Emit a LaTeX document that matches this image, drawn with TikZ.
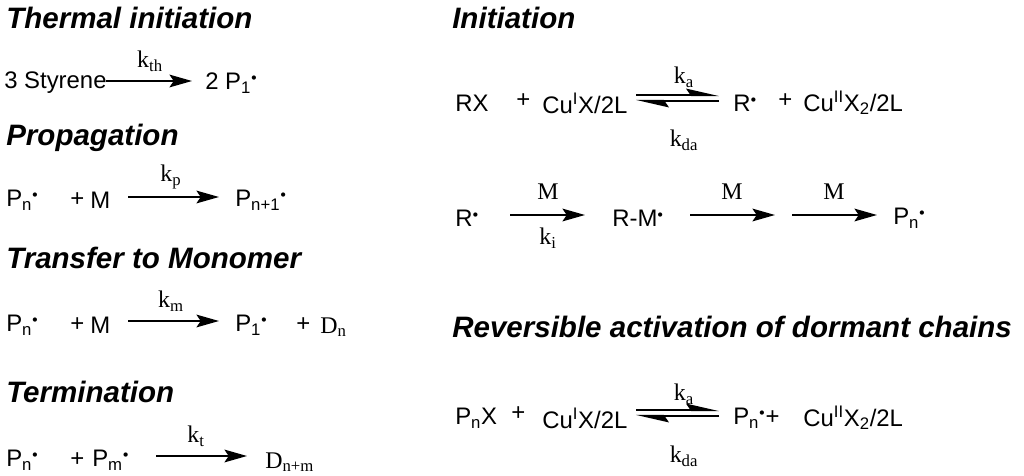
\documentclass[tikz,border=0pt]{standalone}
\usepackage{fontspec}
\setmainfont{Liberation Serif}
\newfontfamily\arial{Liberation Sans}
\usetikzlibrary{arrows.meta}
\begin{document}
\begin{tikzpicture}[x=0.025cm,y=-0.025cm,
  hd/.style={anchor=west,inner sep=0,font=\arial\bfseries\itshape\fontsize{21}{25}\selectfont},
  t/.style={anchor=west,inner sep=0,font=\arial\fontsize{17}{20}\selectfont},
  k/.style={inner sep=0,font=\fontsize{17}{20}\selectfont},
  ar/.style={line width=1.5pt,-{Stealth[length=16pt,width=9pt,inset=3pt]}},
  hp/.style={line width=1.5pt,-{Stealth[harpoon,length=20pt,width=9pt,inset=3pt]}}]
\useasboundingbox (0,0) rectangle (1024,475);
\newcommand{\rad}{\textsuperscript{\scriptsize$\bullet$}}
\newcommand{\sbs}[1]{\textsubscript{#1}}
\newcommand{\sps}[1]{\textsuperscript{#1}}
% left column
\node[hd] (h1) at (6,18) {Thermal initiation};
\node[t] (s) at (4,83) {3 Styrene};
\coordinate (a1s) at (106,81); \coordinate (a1e) at (192,81);
\draw[ar] (a1s) -- (a1e);
\node[k] (kth) at (150,61) {k\sbs{th}};
\node[t] (p1) at (205,83) {2 P\sbs{1}\rad};

\node[hd] (h2) at (6,138) {Propagation};
\node[t] (pp) at (6,200) {P\sbs{n}\rad};
\node[t] (pl2) at (70,200) {+};
\node[t] (m2) at (90,200) {M};
\coordinate (a2s) at (128,197); \coordinate (a2e) at (219,197);
\draw[ar] (a2s) -- (a2e);
\node[k] (kp) at (171,177) {k\sbs{p}};
\node[t] (pn1) at (235,200) {P\sbs{n+1}\rad};

\node[hd] (h3) at (6,258) {Transfer to Monomer};
\node[t] (pt) at (6,325) {P\sbs{n}\rad};
\node[t] (pl3) at (70,325) {+};
\node[t] (m3) at (90,325) {M};
\coordinate (a3s) at (128,321); \coordinate (a3e) at (219,321);
\draw[ar] (a3s) -- (a3e);
\node[k] (km) at (171,301) {k\sbs{m}};
\node[t] (p13) at (235,325) {P\sbs{1}\rad};
\node[t] (pl3b) at (296,325) {+};
\node[k,anchor=west] (dn) at (320,327) {D\sbs{n}};

\node[hd] (h4) at (6,392) {Termination};
\node[t] (pt4) at (6,460) {P\sbs{n}\rad};
\node[t] (pl4) at (70,460) {+};
\node[t] (pm4) at (92,460) {P\sbs{m}\rad};
\coordinate (a4s) at (156,456); \coordinate (a4e) at (247,456);
\draw[ar] (a4s) -- (a4e);
\node[k] (kt) at (196,436) {k\sbs{t}};
\node[k,anchor=west] (dnm) at (265,462) {D\sbs{n+m}};

% right column
\node[hd] (h5) at (452,18) {Initiation};
\node[t] (rx) at (455,103) {RX};
\node[t] (pl5) at (516,101) {+};
\node[t] (cu5) at (542,103) {Cu\sps{I}X/2L};
\coordinate (e1a) at (636,95); \coordinate (e1b) at (719,95);
\coordinate (e1c) at (719,101); \coordinate (e1d) at (636,101);
\draw[hp] (e1a) -- (e1b); \draw[hp] (e1c) -- (e1d);
\node[k] (ka5) at (684,77) {k\sbs{a}};
\node[k] (kda5) at (684,140) {k\sbs{da}};
\node[t] (r5) at (733,103) {R\rad};
\node[t] (pl5b) at (778,101) {+};
\node[t] (cu52) at (803,103) {Cu\sps{II}X\sbs{2}/2L};

\node[t] (r6) at (455,218) {R\rad};
\coordinate (b1s) at (510,215); \coordinate (b1e) at (585,215);
\draw[ar] (b1s) -- (b1e);
\node[k] (mb1) at (548,192) {M};
\node[k] (ki) at (548,238) {k\sbs{i}};
\node[t] (rm) at (612,218) {R-M\rad};
\coordinate (b2s) at (690,215); \coordinate (b2e) at (775,215);
\draw[ar] (b2s) -- (b2e);
\node[k] (mb2) at (732,192) {M};
\coordinate (b3s) at (792,215); \coordinate (b3e) at (877,215);
\draw[ar] (b3s) -- (b3e);
\node[k] (mb3) at (834,192) {M};
\node[t] (pn6) at (893,218) {P\sbs{n}\rad};

\node[hd] (h7) at (452,327) {Reversible activation of dormant chains};
\node[t] (pnx) at (455,418) {P\sbs{n}X};
\node[t] (pl7) at (511,414) {+};
\node[t] (cu7) at (542,418) {Cu\sps{I}X/2L};
\coordinate (e2a) at (636,410); \coordinate (e2b) at (719,410);
\coordinate (e2c) at (719,416); \coordinate (e2d) at (636,416);
\draw[hp] (e2a) -- (e2b); \draw[hp] (e2c) -- (e2d);
\node[k] (ka7) at (684,394) {k\sbs{a}};
\node[k] (kda7) at (684,456) {k\sbs{da}};
\node[t] (pn7) at (733,418) {P\sbs{n}\rad+};
\node[t] (cu72) at (803,418) {Cu\sps{II}X\sbs{2}/2L};
\end{tikzpicture}
\end{document}
